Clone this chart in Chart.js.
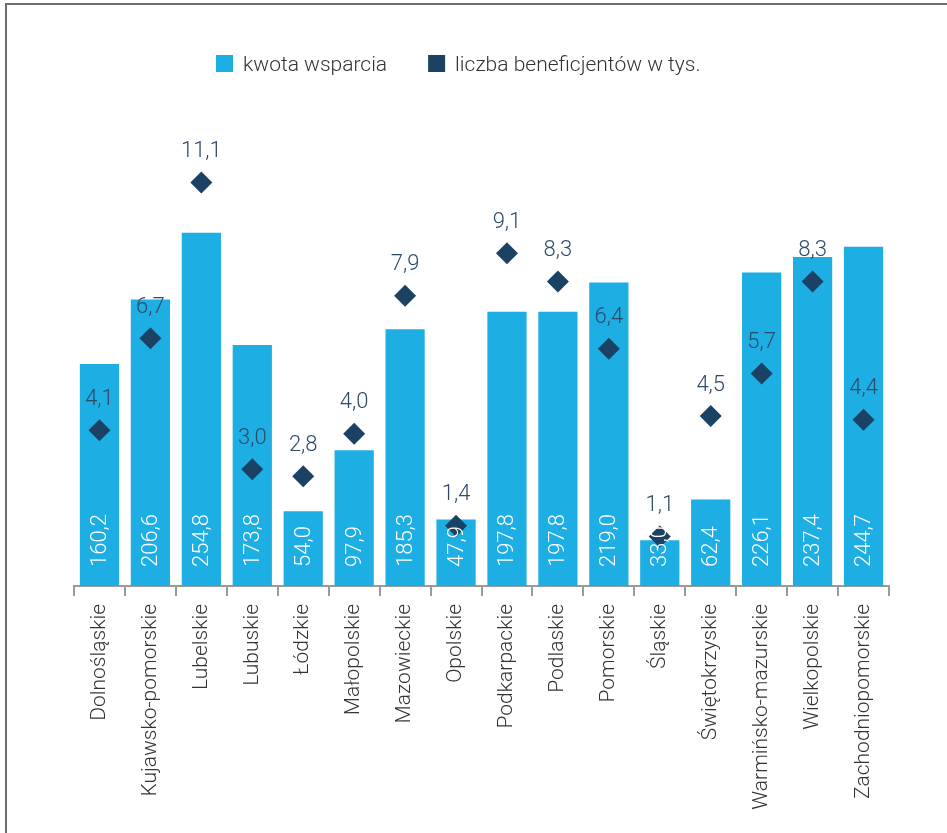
<!DOCTYPE html>
<html>
<head>
<meta charset="utf-8">
<script src="https://cdn.jsdelivr.net/npm/chart.js@4/dist/chart.umd.min.js"></script>
<style>
  html, body { margin: 0; padding: 0; background: #fff; overflow: hidden; }
  #wrap { width: 947px; height: 833px; position: relative; }
</style>
</head>
<body>
<div id="wrap"><canvas id="chart"></canvas></div>
<script>
// Data
var categories = ['Dolnośląskie', 'Kujawsko-pomorskie', 'Lubelskie', 'Lubuskie', 'Łódzkie',
    'Małopolskie', 'Mazowieckie', 'Opolskie', 'Podkarpackie', 'Podlaskie', 'Pomorskie',
    'Śląskie', 'Świętokrzyskie', 'Warmińsko-mazurskie', 'Wielkopolskie', 'Zachodniopomorskie'];
var kwotaWsparcia = [160.2, 206.6, 254.8, 173.8, 54.0, 97.9, 185.3, 47.9, 197.8, 197.8, 219.0, 33.0, 62.4, 226.1, 237.4, 244.7];
var liczbaBeneficjentow = [4.1, 6.7, 11.1, 3.0, 2.8, 4.0, 7.9, 1.4, 9.1, 8.3, 6.4, 1.1, 4.5, 5.7, 8.3, 4.4];
var seriesNames = ['kwota wsparcia', 'liczba beneficjentów w tys.'];

var FONT = "Roboto, 'DejaVu Sans Condensed', sans-serif";
var barColor = '#1DAEE3';
var pointColor = '#1B4264';

function fmt(v) {
    return v.toFixed(1).replace('.', ',');
}

// frame, legend and value labels
var extras = {
    id: 'extras',
    beforeDraw: function (chart) {
        var ctx = chart.ctx;
        ctx.save();
        ctx.strokeStyle = '#6d6d6d';
        ctx.lineWidth = 2;
        ctx.beginPath();
        ctx.moveTo(6, 833);
        ctx.lineTo(6, 4);
        ctx.lineTo(947, 4);
        ctx.stroke();
        ctx.restore();
    },
    afterDatasetsDraw: function (chart) {
        var ctx = chart.ctx;
        ctx.save();
        // bar values, rotated, inside the bars
        var barMeta = chart.getDatasetMeta(1);
        ctx.fillStyle = '#ffffff';
        ctx.font = '300 22px ' + FONT;
        ctx.textAlign = 'left';
        ctx.textBaseline = 'middle';
        barMeta.data.forEach(function (el, i) {
            ctx.save();
            ctx.translate(el.x + 1, el.base - 19);
            ctx.rotate(-Math.PI / 2);
            ctx.fillText(fmt(kwotaWsparcia[i]), 0, 0);
            ctx.restore();
        });
        // point values above diamonds
        var pointMeta = chart.getDatasetMeta(0);
        ctx.fillStyle = '#2E4A6B';
        ctx.font = '300 22px ' + FONT;
        ctx.textAlign = 'center';
        pointMeta.data.forEach(function (el, i) {
            ctx.fillText(fmt(liczbaBeneficjentow[i]), el.x, el.y - 31);
        });
        ctx.restore();
    },
    afterDraw: function (chart) {
        var ctx = chart.ctx;
        ctx.save();
        ctx.font = '300 21px ' + FONT;
        ctx.textBaseline = 'alphabetic';
        ctx.textAlign = 'left';
        var x = 216;
        var colors = [barColor, pointColor];
        seriesNames.forEach(function (name, i) {
            ctx.fillStyle = colors[i];
            ctx.fillRect(x, 55, 17, 17);
            ctx.fillStyle = '#333333';
            ctx.fillText(name, x + 27, 71);
            x += 27 + ctx.measureText(name).width + 41;
        });
        ctx.restore();
    }
};

new Chart(document.getElementById('chart'), {
    type: 'bar',
    data: {
        labels: categories,
        datasets: [{
            type: 'line',
            label: seriesNames[1],
            data: liczbaBeneficjentow,
            yAxisID: 'y2',
            showLine: false,
            pointStyle: 'rectRot',
            pointRadius: 11,
            pointBorderWidth: 0,
            pointBackgroundColor: pointColor,
            backgroundColor: pointColor,
            borderColor: pointColor,
            order: 0
        }, {
            label: seriesNames[0],
            data: kwotaWsparcia,
            yAxisID: 'y',
            backgroundColor: barColor,
            borderWidth: 0,
            barPercentage: 0.77,
            categoryPercentage: 1,
            order: 1
        }]
    },
    options: {
        responsive: true,
        maintainAspectRatio: false,
        animation: false,
        events: [],
        layout: { padding: { left: 74, right: 58, top: 100, bottom: 0 } },
        plugins: {
            legend: { display: false },
            tooltip: { enabled: false }
        },
        scales: {
            x: {
                grid: {
                    offset: true,
                    drawOnChartArea: false,
                    drawTicks: true,
                    tickLength: 10,
                    color: '#9a9a9a',
                    lineWidth: 2
                },
                border: { color: '#9a9a9a', width: 2 },
                ticks: {
                    autoSkip: false,
                    maxRotation: 90,
                    minRotation: 90,
                    padding: 8,
                    color: '#333333',
                    font: { family: FONT, size: 21, weight: '300' }
                },
                afterFit: function (scale) { scale.height = 247; }
            },
            y: { display: false, min: 0, max: 350.6 },
            y2: { display: false, min: -0.30, max: 13.43 }
        }
    },
    plugins: [extras]
});
</script>
</body>
</html>
